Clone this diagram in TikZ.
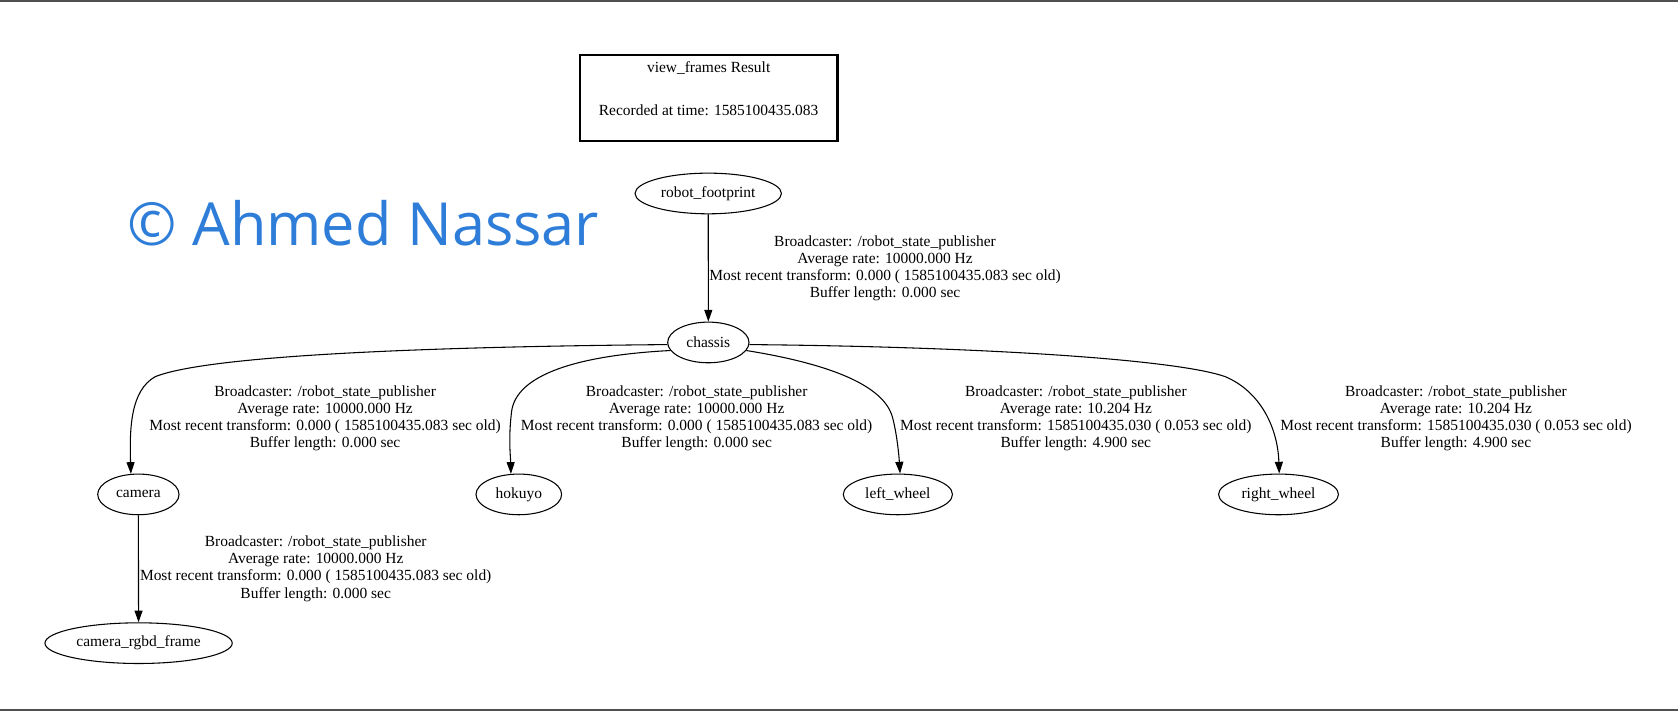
\documentclass[tikz,border=0pt]{standalone}
\usepackage{fontspec}
\setmainfont{Liberation Serif}
\newfontfamily\wmfont{Open Sans}
\usetikzlibrary{shapes.geometric,arrows.meta}
\definecolor{wmblue}{RGB}{46,125,216}
\definecolor{rulegray}{RGB}{80,80,80}
\newdimen\uu
\uu=0.80262pt
\tikzset{
  frame/.style={draw, ellipse, inner sep=0pt, line width=0.8pt, minimum height=38\uu,
    font=\fontsize{11.6}{12.76}\selectfont},
  lbl/.style={align=center, inner sep=0pt, font=\fontsize{11.6}{12.76}\selectfont},
  tf/.style={draw, line width=0.8pt, -{Triangle[length=8.8pt,width=6pt]}},
}
\begin{document}
\begin{tikzpicture}[x=0.80262pt,y=-0.80262pt]
\useasboundingbox (0,0) rectangle (1568,664);
\draw[rulegray, line width=1.5pt] (0,1) -- (1568,1);
\draw[rulegray, line width=1.5pt] (0,663) -- (1568,663);

% title box
\node[draw, line width=1.6pt, minimum width=240.9\uu, minimum height=80.1\uu, inner sep=0pt] (titlebox) at (662.2,91.5) {};
\node[lbl] (t1) at (662.2,63.5) {view\_frames Result};
\node[lbl] (t2) at (662.2,102.8) {Recorded at time: 1585100435.083};

% watermark
\node[anchor=base west, inner sep=0pt, text=wmblue, font=\wmfont\fontsize{44.6}{50}\selectfont] (wm) at (119,229) {© Ahmed Nassar};

% frames
\node[frame, minimum width=136.8\uu] (rf) at (661.8,180.8) {robot\_footprint};
\node[frame, minimum width=76\uu] (chassis) at (661.9,320) {chassis};
\node[frame, minimum width=76\uu] (camera) at (129.3,462) {camera};
\node[frame, minimum width=80\uu] (hokuyo) at (484.8,462) {hokuyo};
\node[frame, minimum width=102\uu] (lw) at (839,462) {left\_wheel};
\node[frame, minimum width=112\uu] (rw) at (1194.7,462) {right\_wheel};
\node[frame, minimum width=175\uu] (rgbd) at (129.5,601) {camera\_rgbd\_frame};

% edges
\draw[tf] (rf) -- (chassis);
\draw[tf] (chassis.183) .. controls (400,324) and (195,332) .. (145,352)
  .. controls (122,365) and (121,400) .. (camera.110);
\draw[tf] (chassis.192) .. controls (540,332) and (482,350) .. (478,385)
  .. controls (475,410) and (477,425) .. (hokuyo.111);
\draw[tf] (chassis.-12) .. controls (775,340) and (826,360) .. (834,390)
  .. controls (838,405) and (840,425) .. (lw.84);
\draw[tf] (chassis.-3) .. controls (920,324) and (1100,336) .. (1145,352)
  .. controls (1178,366) and (1194,400) .. (rw.88);
\draw[tf] (camera) -- (rgbd);

% edge labels
\node[lbl] (l1) at (827,250.9) {Broadcaster: /robot\_state\_publisher\\Average rate: 10000.000 Hz\\Most recent transform: 0.000 ( 1585100435.083 sec old)\\Buffer length: 0.000 sec};
\node[lbl] (l2) at (303.8,391.3) {Broadcaster: /robot\_state\_publisher\\Average rate: 10000.000 Hz\\Most recent transform: 0.000 ( 1585100435.083 sec old)\\Buffer length: 0.000 sec};
\node[lbl] (l3) at (651,391.3) {Broadcaster: /robot\_state\_publisher\\Average rate: 10000.000 Hz\\Most recent transform: 0.000 ( 1585100435.083 sec old)\\Buffer length: 0.000 sec};
\node[lbl] (l4) at (1005.3,391.3) {Broadcaster: /robot\_state\_publisher\\Average rate: 10.204 Hz\\Most recent transform: 1585100435.030 ( 0.053 sec old)\\Buffer length: 4.900 sec};
\node[lbl] (l5) at (1360.5,391.3) {Broadcaster: /robot\_state\_publisher\\Average rate: 10.204 Hz\\Most recent transform: 1585100435.030 ( 0.053 sec old)\\Buffer length: 4.900 sec};
\node[lbl] (l6) at (295,531.5) {Broadcaster: /robot\_state\_publisher\\Average rate: 10000.000 Hz\\Most recent transform: 0.000 ( 1585100435.083 sec old)\\Buffer length: 0.000 sec};
\end{tikzpicture}
\end{document}
